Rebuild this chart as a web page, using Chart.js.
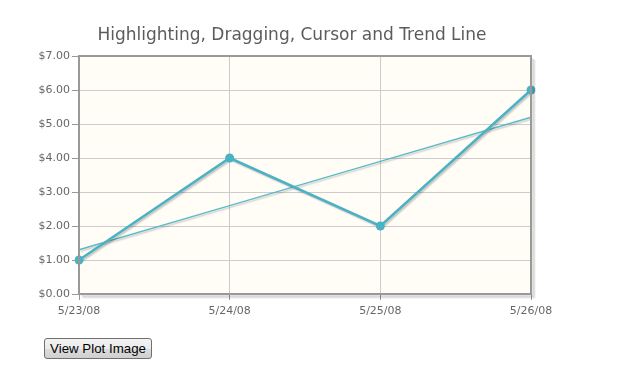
<!DOCTYPE html>
<html>
<head>
<meta charset="utf-8">
<script src="https://cdn.jsdelivr.net/npm/chart.js@4/dist/chart.umd.min.js"></script>
<style>
    body { margin: 0; background: #fff; }
    #wrap { position: absolute; left: 0; top: 0; width: 583px; height: 324px; }
    #viewBtn {
        position: absolute; left: 44px; top: 338px; width: 108px; height: 21px;
        font: 13.3px "Liberation Sans", Arial, sans-serif; color: #000;
        border: 1px solid #707070; border-radius: 3px; padding: 0;
        background: linear-gradient(#f2f2f2, #ebebeb 50%, #dddddd 50%, #cfcfcf);
    }
</style>
</head>
<body>
<div id="wrap"><canvas id="chart" width="583" height="324"></canvas></div>
<button id="viewBtn">View Plot Image</button>
<script>
const dates = ['5/23/08', '5/24/08', '5/25/08', '5/26/08'];
const prices = [1, 4, 2, 6];
const trend = [1.3, 2.6, 3.9, 5.2];
const yTicks = [0, 1, 2, 3, 4, 5, 6, 7];

const plotFrame = {
    id: 'plotFrame',
    afterLayout(chart) {
        // the old plot centred its title over the whole div, not the grid
        if (chart.titleBlock) {
            chart.titleBlock.left = 0;
            chart.titleBlock.right = 584;
        }
    },
    beforeDraw(chart) {
        const { ctx, chartArea: a } = chart;
        ctx.save();
        ctx.fillStyle = '#fffdf6';
        ctx.fillRect(a.left, a.top, a.right - a.left, a.bottom - a.top);
        ctx.restore();
    },
    afterDatasetsDraw(chart) {
        const { ctx, chartArea: a } = chart;
        ctx.save();
        ctx.strokeStyle = 'rgba(0,0,0,0.08)';
        ctx.lineWidth = 2;
        for (let i = 1; i <= 3; i++) {
            ctx.beginPath();
            ctx.moveTo(a.left + i + 1, a.bottom + i + 0.5);
            ctx.lineTo(a.right + i + 0.5, a.bottom + i + 0.5);
            ctx.lineTo(a.right + i + 0.5, a.top + i + 1);
            ctx.stroke();
        }
        ctx.strokeStyle = '#999999';
        ctx.lineWidth = 2;
        ctx.strokeRect(a.left, a.top, a.right - a.left, a.bottom - a.top);
        ctx.restore();
    },
    beforeDatasetDraw(chart, args) {
        const ctx = chart.ctx;
        ctx.save();
        if (args.index === 2) return; // markers have no shadow
        ctx.shadowColor = 'rgba(0,0,0,0.22)';
        ctx.shadowOffsetX = 1.5;
        ctx.shadowOffsetY = 1.5;
        ctx.shadowBlur = 1.5;
    },
    afterDatasetDraw(chart) {
        chart.ctx.restore();
    }
};

new Chart(document.getElementById('chart'), {
    type: 'line',
    data: {
        labels: dates,
        datasets: [
            {
                data: prices,
                borderColor: '#4bb2c5',
                borderWidth: 2.5,
                pointRadius: 0,
                tension: 0,
                order: 2
            },
            {
                data: trend,
                borderColor: 'rgba(75,178,197,0.9)',
                borderWidth: 1.5,
                pointRadius: 0,
                tension: 0,
                order: 3
            },
            {
                data: prices,
                showLine: false,
                backgroundColor: '#4bb2c5',
                borderWidth: 0,
                pointRadius: 4.5,
                pointHoverRadius: 4.5,
                order: 1
            }
        ]
    },
    options: {
        responsive: false,
        animation: false,
        layout: { padding: { left: 0, right: 52, top: 0, bottom: 0 } },
        plugins: {
            legend: { display: false },
            tooltip: { enabled: false },
            title: {
                display: true,
                text: 'Highlighting, Dragging, Cursor and Trend Line',
                color: '#5c5c5c',
                font: { family: 'DejaVu Sans', size: 17, weight: 'normal' },
                padding: { top: 25, bottom: 10.6 }
            }
        },
        scales: {
            x: {
                offset: false,
                grid: { color: '#cccccc', tickLength: 6, tickColor: '#999999' },
                border: { display: false },
                ticks: { color: '#666666', padding: 5, maxRotation: 0, font: { family: 'DejaVu Sans', size: 11 } },
                afterFit: s => { s.height = 30; }
            },
            y: {
                min: 0,
                max: 7,
                afterBuildTicks: s => { s.ticks = yTicks.map(v => ({ value: v })); },
                grid: { color: '#cccccc', tickLength: 7, tickColor: '#999999' },
                border: { display: false },
                ticks: {
                    color: '#666666', padding: 2,
                    font: { family: 'DejaVu Sans', size: 11 },
                    callback: v => '$' + Number(v).toFixed(2)
                },
                afterFit: s => { s.width = 79; }
            }
        }
    },
    plugins: [plotFrame]
});
</script>
</body>
</html>
